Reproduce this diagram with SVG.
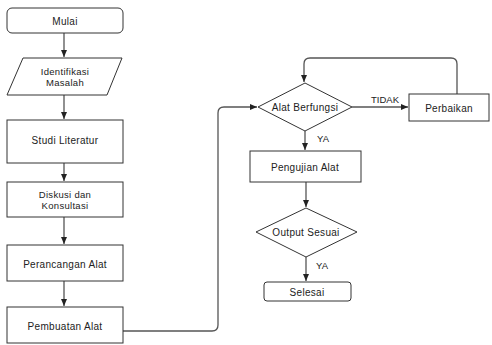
<svg xmlns="http://www.w3.org/2000/svg" width="492" height="345" viewBox="0 0 492 345">
<defs>
<marker id="ah" markerWidth="8" markerHeight="8" refX="7" refY="4" orient="auto" markerUnits="userSpaceOnUse">
<path d="M0,1 L7,4 L0,7 Z" fill="#222"/>
</marker>
<style>
.n{fill:#fff;stroke:#333;stroke-width:1}
.t{font-family:"Liberation Sans",Arial,sans-serif;font-size:10px;fill:#222;text-anchor:middle;dominant-baseline:central;letter-spacing:0.3px}
.s{font-size:9.5px}
.c{fill:none;stroke:#555;stroke-width:1.3;marker-end:url(#ah)}
.lb{font-family:"Liberation Sans",Arial,sans-serif;font-size:9.5px;fill:#222}
</style>
</defs>
<rect width="492" height="345" fill="#fff"/>
<g id="connectors">
<path class="c" d="M64,33 V57"/>
<path class="c" d="M64,95 V119"/>
<path class="c" d="M64,163 V181"/>
<path class="c" d="M64,217 V244"/>
<path class="c" d="M64,281 V306"/>
<path class="c" d="M123,331 H212 Q218,331 218,325 V113 Q218,107 224,107 H257"/>
<path class="c" d="M352,107 H408"/>
<path class="c" d="M457,94 V64 Q457,58 451,58 H310 Q304,58 304,64 V82"/>
<path class="c" d="M305,131 V150"/>
<path class="c" d="M306,182 V207"/>
<path class="c" d="M306,257 V281"/>
<text class="lb" x="371" y="103">TIDAK</text>
<text class="lb" x="317" y="142">YA</text>
<text class="lb" x="316" y="269">YA</text>
</g>
<g id="mulai"><rect class="n" x="7" y="8" width="116" height="25" rx="5"/><text class="t" x="65" y="21">Mulai</text></g>
<g id="identifikasi"><polygon class="n" points="23,58 122,58 107,95 7,95"/><text class="t s" x="65" y="71">Identifikasi</text><text class="t s" x="65" y="82">Masalah</text></g>
<g id="studi"><rect class="n" x="7" y="120" width="116" height="43"/><text class="t" x="65" y="140">Studi Literatur</text></g>
<g id="diskusi"><rect class="n" x="7" y="182" width="116" height="35"/><text class="t s" x="65" y="194">Diskusi dan</text><text class="t s" x="65" y="205">Konsultasi</text></g>
<g id="perancangan"><rect class="n" x="7" y="245" width="116" height="36"/><text class="t" x="65" y="264">Perancangan Alat</text></g>
<g id="pembuatan"><rect class="n" x="7" y="307" width="116" height="36"/><text class="t" x="65" y="326">Pembuatan Alat</text></g>
<g id="alat-berfungsi"><polygon class="n" points="305,83 352,107 305,131 258,107"/><text class="t" x="305" y="107">Alat Berfungsi</text></g>
<g id="perbaikan"><rect class="n" x="409" y="94" width="80" height="27"/><text class="t" x="449" y="108">Perbaikan</text></g>
<g id="pengujian"><rect class="n" x="250" y="151" width="111" height="31"/><text class="t" x="305" y="167">Pengujian Alat</text></g>
<g id="output-sesuai"><polygon class="n" points="306,208 357,232 306,257 256,232"/><text class="t" x="306" y="232">Output Sesuai</text></g>
<g id="selesai"><rect class="n" x="264" y="282" width="87" height="19" rx="3"/><text class="t" x="307" y="292">Selesai</text></g>
</svg>
